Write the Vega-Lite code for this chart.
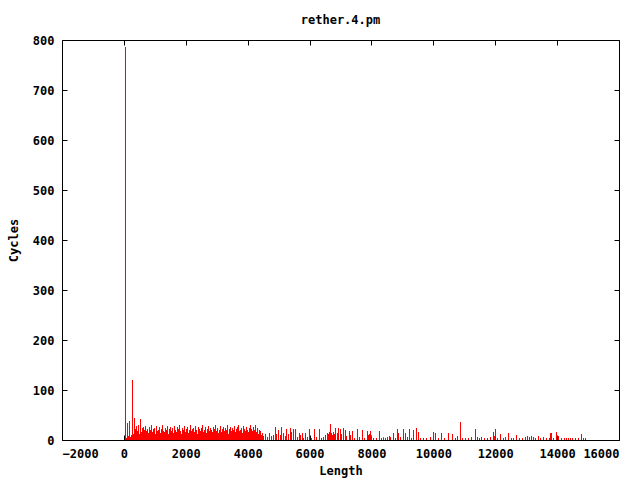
{
  "$schema": "https://vega.github.io/schema/vega-lite/v6.json",
  "width": 557,
  "height": 400,
  "autosize": {"type": "none"},
  "padding": {"left": 62, "top": 40, "right": 21, "bottom": 40},
  "title": {"text": "rether.4.pm", "font": "DejaVu Sans Mono", "fontSize": 12, "fontWeight": "bold", "color": "black", "offset": -5, "baseline": "bottom"},
  "config": {
    "view": {"stroke": "black", "strokeWidth": 1},
    "font": "DejaVu Sans Mono",
    "axis": {"grid": false, "domain": false, "tickColor": "black", "tickSize": -5, "labelFont": "DejaVu Sans Mono", "labelFontSize": 12, "labelFontWeight": "bold", "labelColor": "black", "titleFont": "DejaVu Sans Mono", "titleFontSize": 12, "titleFontWeight": "bold", "titleColor": "black"}
  },
  "data": {"values": [
    {"length": 52, "cycles": 786},
    {"length": 84, "cycles": 4},
    {"length": 117, "cycles": 34},
    {"length": 149, "cycles": 8},
    {"length": 181, "cycles": 38},
    {"length": 214, "cycles": 6},
    {"length": 246, "cycles": 10},
    {"length": 278, "cycles": 120},
    {"length": 311, "cycles": 12},
    {"length": 343, "cycles": 44},
    {"length": 375, "cycles": 22},
    {"length": 408, "cycles": 28},
    {"length": 440, "cycles": 18},
    {"length": 472, "cycles": 30},
    {"length": 505, "cycles": 12},
    {"length": 537, "cycles": 42},
    {"length": 569, "cycles": 16},
    {"length": 602, "cycles": 24},
    {"length": 634, "cycles": 26},
    {"length": 666, "cycles": 20},
    {"length": 699, "cycles": 28},
    {"length": 731, "cycles": 18},
    {"length": 763, "cycles": 22},
    {"length": 796, "cycles": 14},
    {"length": 828, "cycles": 26},
    {"length": 860, "cycles": 20},
    {"length": 892, "cycles": 30},
    {"length": 925, "cycles": 16},
    {"length": 957, "cycles": 22},
    {"length": 989, "cycles": 24},
    {"length": 1022, "cycles": 12},
    {"length": 1054, "cycles": 28},
    {"length": 1086, "cycles": 18},
    {"length": 1119, "cycles": 20},
    {"length": 1151, "cycles": 26},
    {"length": 1183, "cycles": 14},
    {"length": 1216, "cycles": 22},
    {"length": 1248, "cycles": 30},
    {"length": 1280, "cycles": 18},
    {"length": 1313, "cycles": 16},
    {"length": 1345, "cycles": 24},
    {"length": 1377, "cycles": 20},
    {"length": 1410, "cycles": 28},
    {"length": 1442, "cycles": 12},
    {"length": 1474, "cycles": 22},
    {"length": 1507, "cycles": 26},
    {"length": 1539, "cycles": 18},
    {"length": 1571, "cycles": 24},
    {"length": 1604, "cycles": 14},
    {"length": 1636, "cycles": 28},
    {"length": 1668, "cycles": 20},
    {"length": 1701, "cycles": 16},
    {"length": 1733, "cycles": 26},
    {"length": 1765, "cycles": 22},
    {"length": 1798, "cycles": 30},
    {"length": 1830, "cycles": 18},
    {"length": 1862, "cycles": 12},
    {"length": 1894, "cycles": 24},
    {"length": 1927, "cycles": 20},
    {"length": 1959, "cycles": 28},
    {"length": 1991, "cycles": 16},
    {"length": 2024, "cycles": 22},
    {"length": 2056, "cycles": 26},
    {"length": 2088, "cycles": 14},
    {"length": 2121, "cycles": 20},
    {"length": 2153, "cycles": 30},
    {"length": 2185, "cycles": 18},
    {"length": 2218, "cycles": 22},
    {"length": 2250, "cycles": 24},
    {"length": 2282, "cycles": 16},
    {"length": 2315, "cycles": 28},
    {"length": 2347, "cycles": 20},
    {"length": 2379, "cycles": 12},
    {"length": 2412, "cycles": 26},
    {"length": 2444, "cycles": 22},
    {"length": 2476, "cycles": 18},
    {"length": 2509, "cycles": 24},
    {"length": 2541, "cycles": 30},
    {"length": 2573, "cycles": 16},
    {"length": 2606, "cycles": 20},
    {"length": 2638, "cycles": 26},
    {"length": 2670, "cycles": 14},
    {"length": 2703, "cycles": 22},
    {"length": 2735, "cycles": 28},
    {"length": 2767, "cycles": 18},
    {"length": 2799, "cycles": 24},
    {"length": 2832, "cycles": 20},
    {"length": 2864, "cycles": 16},
    {"length": 2896, "cycles": 26},
    {"length": 2929, "cycles": 22},
    {"length": 2961, "cycles": 30},
    {"length": 2993, "cycles": 18},
    {"length": 3026, "cycles": 24},
    {"length": 3058, "cycles": 14},
    {"length": 3090, "cycles": 20},
    {"length": 3123, "cycles": 28},
    {"length": 3155, "cycles": 16},
    {"length": 3187, "cycles": 22},
    {"length": 3220, "cycles": 26},
    {"length": 3252, "cycles": 18},
    {"length": 3284, "cycles": 24},
    {"length": 3317, "cycles": 20},
    {"length": 3349, "cycles": 30},
    {"length": 3381, "cycles": 12},
    {"length": 3414, "cycles": 22},
    {"length": 3446, "cycles": 26},
    {"length": 3478, "cycles": 18},
    {"length": 3510, "cycles": 24},
    {"length": 3543, "cycles": 20},
    {"length": 3575, "cycles": 28},
    {"length": 3607, "cycles": 16},
    {"length": 3640, "cycles": 22},
    {"length": 3672, "cycles": 26},
    {"length": 3704, "cycles": 30},
    {"length": 3737, "cycles": 18},
    {"length": 3769, "cycles": 20},
    {"length": 3801, "cycles": 24},
    {"length": 3834, "cycles": 14},
    {"length": 3866, "cycles": 28},
    {"length": 3898, "cycles": 22},
    {"length": 3931, "cycles": 18},
    {"length": 3963, "cycles": 26},
    {"length": 3995, "cycles": 20},
    {"length": 4028, "cycles": 16},
    {"length": 4060, "cycles": 24},
    {"length": 4092, "cycles": 30},
    {"length": 4125, "cycles": 22},
    {"length": 4157, "cycles": 18},
    {"length": 4189, "cycles": 26},
    {"length": 4222, "cycles": 20},
    {"length": 4254, "cycles": 30},
    {"length": 4286, "cycles": 16},
    {"length": 4319, "cycles": 24},
    {"length": 4351, "cycles": 12},
    {"length": 4383, "cycles": 20},
    {"length": 4415, "cycles": 18},
    {"length": 4448, "cycles": 10},
    {"length": 4480, "cycles": 14},
    {"length": 4512, "cycles": 8},
    {"length": 4577, "cycles": 12},
    {"length": 4642, "cycles": 6},
    {"length": 4706, "cycles": 14},
    {"length": 4771, "cycles": 8},
    {"length": 4836, "cycles": 10},
    {"length": 4900, "cycles": 26},
    {"length": 4933, "cycles": 12},
    {"length": 4997, "cycles": 20},
    {"length": 5062, "cycles": 10},
    {"length": 5094, "cycles": 26},
    {"length": 5159, "cycles": 14},
    {"length": 5223, "cycles": 8},
    {"length": 5256, "cycles": 22},
    {"length": 5320, "cycles": 12},
    {"length": 5385, "cycles": 24},
    {"length": 5417, "cycles": 16},
    {"length": 5482, "cycles": 22},
    {"length": 5547, "cycles": 22},
    {"length": 5611, "cycles": 6},
    {"length": 5676, "cycles": 14},
    {"length": 5707, "cycles": 10},
    {"length": 5772, "cycles": 14},
    {"length": 5804, "cycles": 4},
    {"length": 5869, "cycles": 14},
    {"length": 5933, "cycles": 6},
    {"length": 5998, "cycles": 22},
    {"length": 6063, "cycles": 4},
    {"length": 6160, "cycles": 22},
    {"length": 6224, "cycles": 6},
    {"length": 6321, "cycles": 22},
    {"length": 6386, "cycles": 4},
    {"length": 6450, "cycles": 6},
    {"length": 6515, "cycles": 10},
    {"length": 6580, "cycles": 14},
    {"length": 6612, "cycles": 12},
    {"length": 6644, "cycles": 16},
    {"length": 6677, "cycles": 32},
    {"length": 6709, "cycles": 14},
    {"length": 6741, "cycles": 10},
    {"length": 6774, "cycles": 16},
    {"length": 6806, "cycles": 12},
    {"length": 6838, "cycles": 24},
    {"length": 6903, "cycles": 14},
    {"length": 6935, "cycles": 24},
    {"length": 7000, "cycles": 22},
    {"length": 7032, "cycles": 12},
    {"length": 7097, "cycles": 24},
    {"length": 7161, "cycles": 20},
    {"length": 7194, "cycles": 8},
    {"length": 7291, "cycles": 18},
    {"length": 7323, "cycles": 10},
    {"length": 7388, "cycles": 18},
    {"length": 7452, "cycles": 4},
    {"length": 7549, "cycles": 22},
    {"length": 7614, "cycles": 6},
    {"length": 7711, "cycles": 20},
    {"length": 7776, "cycles": 4},
    {"length": 7873, "cycles": 18},
    {"length": 7905, "cycles": 10},
    {"length": 7937, "cycles": 12},
    {"length": 7970, "cycles": 18},
    {"length": 8002, "cycles": 8},
    {"length": 8067, "cycles": 4},
    {"length": 8164, "cycles": 4},
    {"length": 8260, "cycles": 18},
    {"length": 8325, "cycles": 4},
    {"length": 8390, "cycles": 5},
    {"length": 8454, "cycles": 4},
    {"length": 8519, "cycles": 6},
    {"length": 8584, "cycles": 8},
    {"length": 8616, "cycles": 6},
    {"length": 8713, "cycles": 14},
    {"length": 8777, "cycles": 4},
    {"length": 8842, "cycles": 22},
    {"length": 8874, "cycles": 14},
    {"length": 8939, "cycles": 6},
    {"length": 9036, "cycles": 22},
    {"length": 9101, "cycles": 14},
    {"length": 9165, "cycles": 6},
    {"length": 9230, "cycles": 22},
    {"length": 9295, "cycles": 4},
    {"length": 9359, "cycles": 20},
    {"length": 9456, "cycles": 24},
    {"length": 9521, "cycles": 16},
    {"length": 9585, "cycles": 4},
    {"length": 9682, "cycles": 4},
    {"length": 9779, "cycles": 4},
    {"length": 9909, "cycles": 6},
    {"length": 10006, "cycles": 16},
    {"length": 10070, "cycles": 14},
    {"length": 10167, "cycles": 4},
    {"length": 10264, "cycles": 14},
    {"length": 10361, "cycles": 4},
    {"length": 10490, "cycles": 14},
    {"length": 10619, "cycles": 12},
    {"length": 10716, "cycles": 4},
    {"length": 10781, "cycles": 8},
    {"length": 10878, "cycles": 36},
    {"length": 10943, "cycles": 4},
    {"length": 11040, "cycles": 4},
    {"length": 11137, "cycles": 4},
    {"length": 11234, "cycles": 6},
    {"length": 11363, "cycles": 22},
    {"length": 11428, "cycles": 6},
    {"length": 11492, "cycles": 4},
    {"length": 11557, "cycles": 6},
    {"length": 11654, "cycles": 4},
    {"length": 11751, "cycles": 4},
    {"length": 11848, "cycles": 6},
    {"length": 11945, "cycles": 16},
    {"length": 11977, "cycles": 8},
    {"length": 12009, "cycles": 22},
    {"length": 12074, "cycles": 4},
    {"length": 12171, "cycles": 12},
    {"length": 12268, "cycles": 4},
    {"length": 12333, "cycles": 6},
    {"length": 12430, "cycles": 14},
    {"length": 12527, "cycles": 4},
    {"length": 12591, "cycles": 4},
    {"length": 12688, "cycles": 10},
    {"length": 12785, "cycles": 4},
    {"length": 12882, "cycles": 4},
    {"length": 12979, "cycles": 6},
    {"length": 13044, "cycles": 8},
    {"length": 13108, "cycles": 6},
    {"length": 13173, "cycles": 8},
    {"length": 13238, "cycles": 6},
    {"length": 13302, "cycles": 4},
    {"length": 13399, "cycles": 8},
    {"length": 13464, "cycles": 4},
    {"length": 13561, "cycles": 6},
    {"length": 13657, "cycles": 4},
    {"length": 13754, "cycles": 4},
    {"length": 13786, "cycles": 14},
    {"length": 13818, "cycles": 14},
    {"length": 13883, "cycles": 4},
    {"length": 13980, "cycles": 16},
    {"length": 14045, "cycles": 8},
    {"length": 14142, "cycles": 4},
    {"length": 14239, "cycles": 4},
    {"length": 14303, "cycles": 4},
    {"length": 14368, "cycles": 4},
    {"length": 14433, "cycles": 4},
    {"length": 14497, "cycles": 4},
    {"length": 14594, "cycles": 4},
    {"length": 14691, "cycles": 4},
    {"length": 14788, "cycles": 12},
    {"length": 14853, "cycles": 4},
    {"length": 14917, "cycles": 4}
  ]},
  "layer": [
    {
      "mark": {"type": "rule", "color": "#ff0000", "strokeWidth": 1},
      "encoding": {
        "x": {"field": "length", "type": "quantitative", "scale": {"domain": [-2000, 16000], "nice": false, "zero": false},
              "axis": {"orient": "bottom", "title": "Length", "values": [-2000, 0, 2000, 4000, 6000, 8000, 10000, 12000, 14000, 16000], "format": "d", "labelPadding": 13, "titlePadding": 6}},
        "y": {"field": "cycles", "type": "quantitative", "scale": {"domain": [0, 800], "nice": false},
              "axis": {"orient": "left", "title": "Cycles", "values": [0, 100, 200, 300, 400, 500, 600, 700, 800], "format": "d", "labelPadding": 13, "titlePadding": 12}},
        "y2": {"datum": 0}
      }
    },
    {
      "mark": {"type": "rule", "color": "#ff0000", "strokeWidth": 1},
      "encoding": {
        "x": {"field": "length", "type": "quantitative",
              "axis": {"orient": "top", "title": null, "labels": false, "values": [-2000, 0, 2000, 4000, 6000, 8000, 10000, 12000, 14000, 16000]}},
        "y": {"field": "cycles", "type": "quantitative",
              "axis": {"orient": "right", "title": null, "labels": false, "values": [0, 100, 200, 300, 400, 500, 600, 700, 800]}},
        "y2": {"datum": 0}
      }
    }
  ],
  "resolve": {"axis": {"x": "independent", "y": "independent"}}
}
